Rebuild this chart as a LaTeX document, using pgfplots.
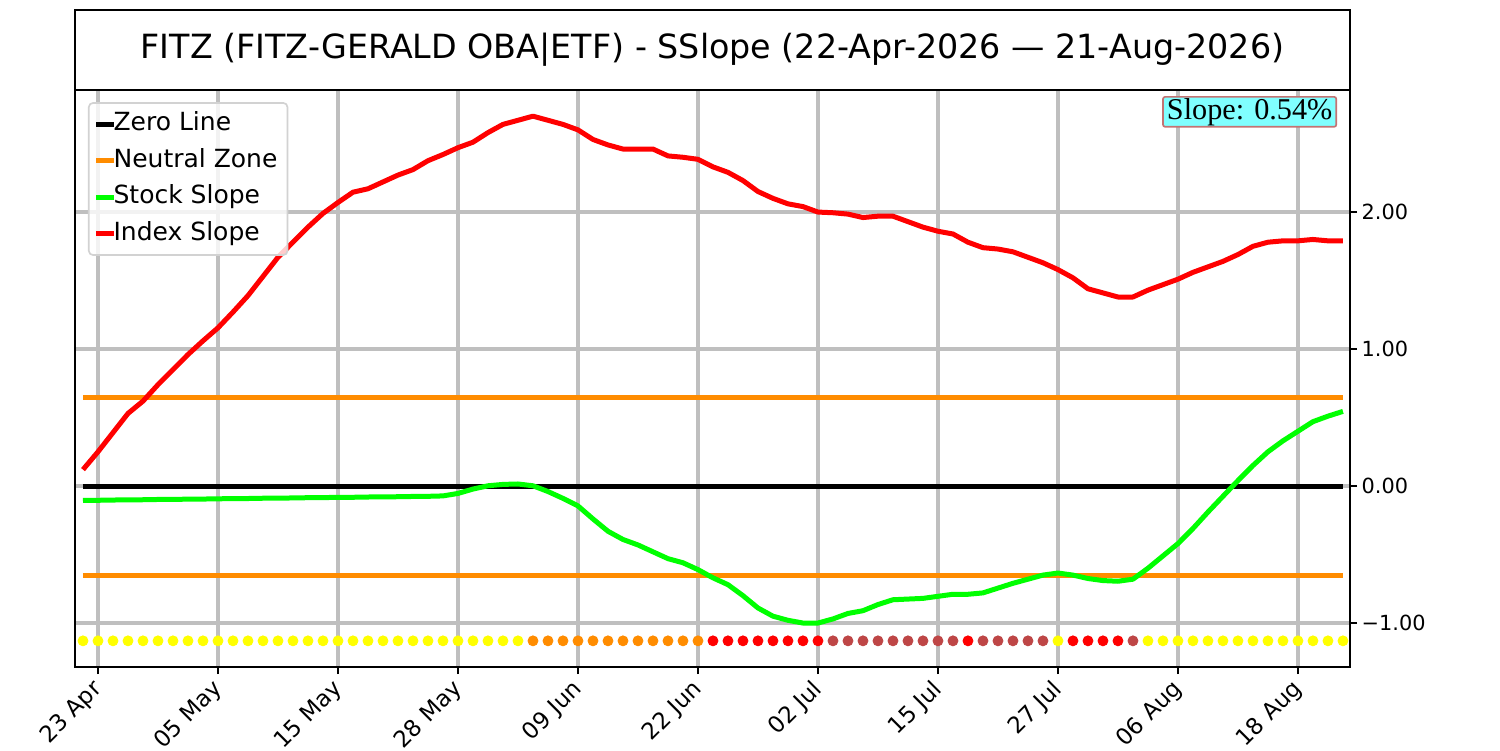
\documentclass[border=0pt]{standalone}
\usepackage{fontspec}
\setmainfont{DejaVu Sans}
\newfontfamily\boxserif{Liberation Serif}
\usepackage{pgfplots}
\usepackage{pgfplotstable}
\pgfplotsset{compat=1.18}
\definecolor{limeg}{RGB}{0,255,0}
\definecolor{zoneorange}{RGB}{255,140,0}
\definecolor{dotyellow}{RGB}{255,255,0}
\definecolor{dotorange}{RGB}{255,140,0}
\definecolor{dotred}{RGB}{255,0,0}
\definecolor{dotbrown}{RGB}{190,70,70}
\definecolor{boxfill}{RGB}{128,255,255}
\definecolor{boxedge}{RGB}{195,115,115}
\pgfplotstableread{
i r s c d
0 0.12 -0.105 y -1.13
1 0.25 -0.104 y -1.13
2 0.39 -0.102 y -1.13
3 0.53 -0.101 y -1.13
4 0.62 -0.100 y -1.13
5 0.74 -0.098 y -1.13
6 0.85 -0.097 y -1.13
7 0.96 -0.096 y -1.13
8 1.06 -0.095 y -1.13
9 1.155 -0.093 y -1.13
10 1.27 -0.092 y -1.13
11 1.39 -0.091 y -1.13
12 1.53 -0.089 y -1.13
13 1.67 -0.088 y -1.13
14 1.78 -0.087 y -1.13
15 1.89 -0.085 y -1.13
16 1.99 -0.084 y -1.13
17 2.07 -0.083 y -1.13
18 2.145 -0.082 y -1.13
19 2.17 -0.080 y -1.13
20 2.22 -0.079 y -1.13
21 2.27 -0.078 y -1.13
22 2.31 -0.076 y -1.13
23 2.375 -0.075 y -1.13
24 2.42 -0.072 y -1.13
25 2.47 -0.054 y -1.13
26 2.51 -0.022 y -1.13
27 2.58 0.002 y -1.13
28 2.64 0.012 y -1.13
29 2.67 0.015 y -1.13
30 2.70 0.002 o -1.13
31 2.67 -0.040 o -1.13
32 2.64 -0.090 o -1.13
33 2.60 -0.145 o -1.13
34 2.53 -0.240 o -1.13
35 2.49 -0.330 o -1.13
36 2.46 -0.390 o -1.13
37 2.46 -0.430 o -1.13
38 2.46 -0.480 o -1.13
39 2.41 -0.530 o -1.13
40 2.40 -0.560 o -1.13
41 2.385 -0.610 o -1.13
42 2.33 -0.670 r -1.13
43 2.29 -0.720 r -1.13
44 2.23 -0.800 r -1.13
45 2.15 -0.890 r -1.13
46 2.10 -0.950 r -1.13
47 2.06 -0.980 r -1.13
48 2.04 -1.000 r -1.13
49 2.00 -1.000 r -1.13
50 1.995 -0.970 b -1.13
51 1.985 -0.930 b -1.13
52 1.96 -0.910 b -1.13
53 1.97 -0.865 b -1.13
54 1.97 -0.830 b -1.13
55 1.93 -0.825 b -1.13
56 1.89 -0.820 b -1.13
57 1.86 -0.805 b -1.13
58 1.84 -0.790 b -1.13
59 1.78 -0.790 r -1.13
60 1.74 -0.780 b -1.13
61 1.73 -0.745 b -1.13
62 1.71 -0.710 b -1.13
63 1.67 -0.680 b -1.13
64 1.63 -0.650 b -1.13
65 1.58 -0.635 y -1.13
66 1.52 -0.650 r -1.13
67 1.44 -0.675 r -1.13
68 1.41 -0.690 r -1.13
69 1.38 -0.695 r -1.13
70 1.38 -0.680 b -1.13
71 1.43 -0.600 y -1.13
72 1.47 -0.510 y -1.13
73 1.51 -0.420 y -1.13
74 1.56 -0.310 y -1.13
75 1.60 -0.190 y -1.13
76 1.64 -0.075 y -1.13
77 1.69 0.040 y -1.13
78 1.75 0.150 y -1.13
79 1.78 0.250 y -1.13
80 1.79 0.330 y -1.13
81 1.79 0.400 y -1.13
82 1.80 0.470 y -1.13
83 1.79 0.510 y -1.13
84 1.79 0.545 y -1.13
}\data
\begin{document}
\begin{tikzpicture}
\path[use as bounding box] (-36pt,-39.84pt) rectangle (684pt,320.16pt);
\begin{axis}[
  at={(0,0)}, anchor=south west,
  width=612pt, height=276.96pt, scale only axis,
  xmin=-0.533, xmax=84.47, ymin=-1.321, ymax=2.891,
  axis line style={black, line width=0.8pt},
  xtick={1,9,17,25,33,41,49,57,65,73,81},
  xticklabels={23 Apr,05 May,15 May,28 May,09 Jun,22 Jun,02 Jul,15 Jul,27 Jul,06 Aug,18 Aug},
  ytick={-1,0,1,2},
  yticklabels={−1.00,0.00,1.00,2.00},
  xtick pos=lower, ytick pos=upper, yticklabel pos=right,
  tick align=outside, major tick length=3.4pt,
  tick style={black, line width=0.8pt},
  xticklabel style={font=\fontsize{11}{13}\selectfont, xshift=-3.4pt, yshift=-0.3pt, rotate=45, anchor=north east, inner sep=1pt},
  yticklabel style={font=\fontsize{10}{12}\selectfont, inner sep=2pt},
  grid=major,
  major grid style={gray!50, line width=2.2pt},
  legend cell align=left,
  legend style={at={(0.0102,0.979)}, anchor=north west, draw=gray!35, line width=0.8pt, rounded corners=2pt,
    fill=white, fill opacity=0.8, text opacity=1, font=\fontsize{12}{14}\selectfont,
    inner xsep=2.4pt, inner ysep=1.5pt,
    nodes={inner xsep=0pt, inner ysep=3pt, text height=8.9pt, text depth=2.6pt},
    /tikz/every odd column/.append style={column sep=-1.5pt}},
  legend image code/.code={\draw[#1, line width=2.4pt, line cap=butt] (0pt,0pt) -- (8.6pt,0pt);},
]
\addplot[black, line width=2.4pt] coordinates {(0,0) (84,0)};
\addlegendentry{Zero Line}
\addplot[zoneorange, line width=2.4pt] coordinates {(0,0.65) (84,0.65)};
\addlegendentry{Neutral Zone\hspace*{2.4pt}}
\addplot[zoneorange, line width=2.4pt, forget plot] coordinates {(0,-0.65) (84,-0.65)};
\addplot[limeg, line width=2.4pt, line join=round] table[x=i, y=s] {\data};
\addlegendentry{Stock Slope}
\addplot[red, line width=2.4pt, line join=round] table[x=i, y=r] {\data};
\addlegendentry{Index Slope}
\addplot[forget plot, only marks, scatter, scatter src=explicit symbolic, mark size=2.4pt,
  scatter/classes={
    y={mark=*, draw=dotyellow, fill=dotyellow},
    o={mark=*, draw=dotorange, fill=dotorange},
    r={mark=*, draw=dotred, fill=dotred},
    b={mark=*, draw=dotbrown, fill=dotbrown}}]
  table[x=i, y=d, meta=c] {\data};
\node[anchor=north east, fill=boxfill, draw=boxedge, line width=0.8pt, rounded corners=1pt,
  inner xsep=1.9pt, inner ysep=0.6pt, font=\boxserif\fontsize{14.5}{16}\selectfont]
  at ([xshift=-6.2pt, yshift=-2.9pt]rel axis cs:1,1) {Slope: 0.54\%};
\end{axis}
\draw[black, line width=0.8pt] (0pt,276.96pt) rectangle (612pt,315.36pt);
\node[font=\fontsize{16}{19}\selectfont] at (306pt,296.16pt) {FITZ (FITZ-GERALD OBA|ETF) - SSlope (22-Apr-2026 — 21-Aug-2026)};
\end{tikzpicture}
\end{document}
